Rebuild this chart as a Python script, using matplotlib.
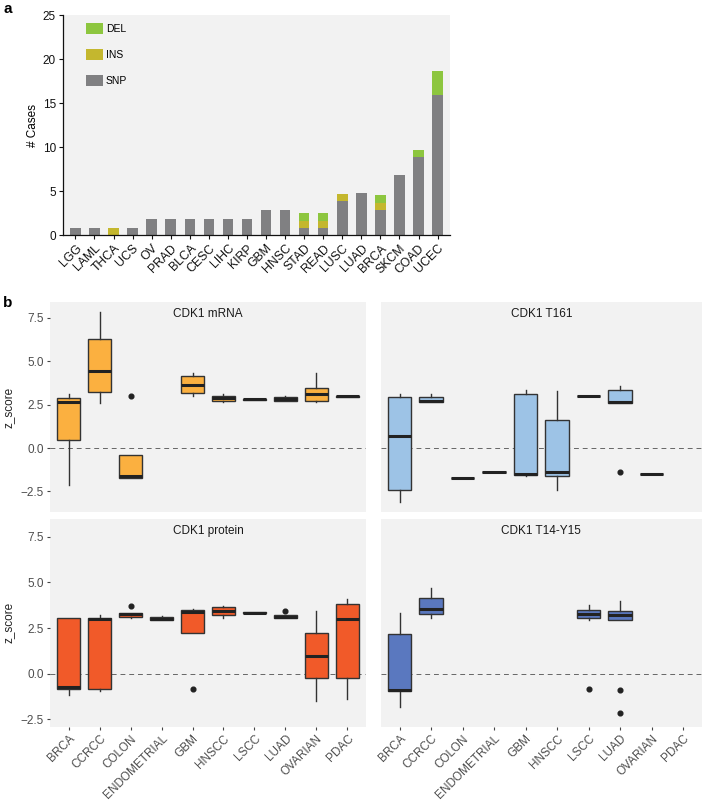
import matplotlib
matplotlib.use("Agg")
import matplotlib.pyplot as plt
from matplotlib.patches import Patch

# ---------------- data: panel a ----------------
cancers_a = ["LGG", "LAML", "THCA", "UCS", "OV", "PRAD", "BLCA", "CESC", "LIHC", "KIRP",
             "GBM", "HNSC", "STAD", "READ", "LUSC", "LUAD", "BRCA", "SKCM", "COAD", "UCEC"]
snp_cases = [0.83, 0.83, 0.0, 0.83, 1.85, 1.85, 1.85, 1.85, 1.85, 1.85,
             2.84, 2.84, 0.83, 0.83, 3.86, 4.85, 2.84, 6.86, 8.86, 15.87]
ins_cases = [0.0, 0.0, 0.83, 0.0, 0.0, 0.0, 0.0, 0.0, 0.0, 0.0,
             0.0, 0.0, 0.84, 0.84, 0.84, 0.0, 0.82, 0.0, 0.0, 0.0]
del_cases = [0.0, 0.0, 0.0, 0.0, 0.0, 0.0, 0.0, 0.0, 0.0, 0.0,
             0.0, 0.0, 0.87, 0.87, 0.0, 0.0, 0.91, 0.0, 0.84, 2.83]
a_yticks = [0, 5, 10, 15, 20, 25]

# ---------------- data: panel b ----------------
cohorts = ["BRCA", "CCRCC", "COLON", "ENDOMETRIAL", "GBM", "HNSCC", "LSCC", "LUAD", "OVARIAN", "PDAC"]
b_yticks = [-2.5, 0.0, 2.5, 5.0, 7.5]

mrna_q1 = [0.44, 3.21, -1.71, None, 3.19, 2.71, 2.77, 2.73, 2.69, 2.96]
mrna_med = [2.63, 4.42, -1.60, None, 3.65, 2.85, 2.80, 2.83, 3.13, 2.98]
mrna_q3 = [2.88, 6.25, -0.38, None, 4.12, 3.00, 2.83, 2.92, 3.46, 3.00]
mrna_lo = [-2.15, 2.60, -1.71, None, 2.98, 2.63, 2.77, 2.73, 2.62, 2.96]
mrna_hi = [3.08, 7.80, -0.38, None, 4.29, 3.10, 2.83, 3.02, 4.29, 3.00]
mrna_out = [[], [], [3.02], [], [], [], [], [], [], []]

t161_q1 = [-2.40, 2.67, -1.71, -1.37, -1.56, -1.63, 3.02, 2.60, -1.52, None]
t161_med = [0.69, 2.71, -1.71, -1.37, -1.50, -1.40, 3.02, 2.67, -1.52, None]
t161_q3 = [2.92, 2.96, -1.71, -1.37, 3.10, 1.62, 3.02, 3.33, -1.52, None]
t161_lo = [-3.13, 2.67, -1.71, -1.37, -1.63, -2.40, 3.02, 2.60, -1.52, None]
t161_hi = [3.10, 3.10, -1.71, -1.37, 3.35, 3.29, 3.02, 3.56, -1.52, None]
t161_out = [[], [], [], [], [], [], [], [-1.37], [], []]

prot_q1 = [-0.83, -0.81, 3.13, 2.94, 2.24, 3.24, 3.33, 3.03, -0.22, -0.26]
prot_med = [-0.74, 3.01, 3.27, 3.00, 3.36, 3.42, 3.35, 3.13, 0.99, 3.00]
prot_q3 = [3.03, 3.03, 3.35, 3.13, 3.47, 3.64, 3.37, 3.24, 2.22, 3.83]
prot_lo = [-1.14, -0.92, 3.05, 2.94, 2.24, 3.05, 3.33, 3.03, -1.47, -1.40]
prot_hi = [3.03, 3.20, 3.35, 3.16, 3.53, 3.69, 3.37, 3.24, 3.46, 4.08]
prot_out = [[], [], [3.69], [], [-0.83], [], [], [3.46], [], []]

t14_q1 = [-0.97, 3.27, None, None, None, None, 3.03, 2.94, None, None]
t14_med = [-0.88, 3.53, None, None, None, None, 3.29, 3.22, None, None]
t14_q3 = [2.15, 4.12, None, None, None, None, 3.49, 3.44, None, None]
t14_lo = [-1.84, 3.07, None, None, None, None, 2.96, 2.94, None, None]
t14_hi = [3.33, 4.67, None, None, None, None, 3.77, 3.99, None, None]
t14_out = [[], [], [], [], [], [], [-0.85], [-0.88, -2.17], [], []]

# ---------------- style ----------------
W, H = 702, 806
fig = plt.figure(figsize=(W / 100, H / 100), dpi=100)
BG = "#f2f2f2"
FONT_A = ["Liberation Sans Narrow", "Liberation Sans", "DejaVu Sans"]
FONT_B = ["Liberation Sans", "DejaVu Sans"]


def ax_px(l, t, r, b):
    return fig.add_axes([l / W, 1 - b / H, (r - l) / W, (b - t) / H])


# ---------------- panel a ----------------
axa = ax_px(63, 15, 450, 235.3)
axa.set_facecolor(BG)
xs = list(range(len(cancers_a)))
c_snp, c_ins, c_del = "#808082", "#c4b72e", "#8dc63f"
axa.bar(xs, snp_cases, width=0.55, color=c_snp, zorder=2)
axa.bar(xs, ins_cases, width=0.55, bottom=snp_cases, color=c_ins, zorder=2)
bot2 = [s + i for s, i in zip(snp_cases, ins_cases)]
axa.bar(xs, del_cases, width=0.55, bottom=bot2, color=c_del, zorder=2)
axa.set_xlim(-0.65, len(cancers_a) - 0.35)
axa.set_ylim(0, 25)
axa.set_yticks(a_yticks)
axa.set_yticklabels([str(v) for v in a_yticks], family=FONT_A, fontsize=8.5)
axa.set_xticks(xs)
axa.set_xticklabels(cancers_a, rotation=45, ha="right", rotation_mode="anchor",
                    family=FONT_A, fontsize=8.8)
for s in ["top", "right"]:
    axa.spines[s].set_visible(False)
for s in ["left", "bottom"]:
    axa.spines[s].set_linewidth(0.9)
    axa.spines[s].set_color("#111111")
axa.tick_params(length=3, width=0.8, pad=2, colors="#111111")
axa.set_ylabel("# Cases", family=FONT_A, fontsize=8.5, labelpad=3)
handles = [Patch(facecolor=c_del, label="DEL"),
           Patch(facecolor=c_ins, label="INS"),
           Patch(facecolor=c_snp, label="SNP")]
leg = axa.legend(handles=handles, loc="upper left", bbox_to_anchor=(0.035, 1.005),
                 frameon=False, handlelength=1.6, handleheight=1.2, labelspacing=1.45,
                 handletextpad=0.3, prop={"family": FONT_A, "size": 7.5})
fig.text(3 / W, 1 - 13 / H, "a", fontsize=11, fontweight="bold", family=FONT_B)

# ---------------- panel b ----------------
fig.text(3 / W, 1 - 307 / H, "b", fontsize=11, fontweight="bold", family=FONT_B)

panels = [
    ("CDK1 mRNA", (50, 301.7, 366, 512.3), (-3.7, 8.42),
     (mrna_q1, mrna_med, mrna_q3, mrna_lo, mrna_hi, mrna_out), "#fbb040", True, False),
    ("CDK1 T161", (380.7, 301.7, 702, 512.3), (-3.7, 8.42),
     (t161_q1, t161_med, t161_q3, t161_lo, t161_hi, t161_out), "#9dc3e6", False, False),
    ("CDK1 protein", (50, 519, 366, 726.7), (-2.9, 8.47),
     (prot_q1, prot_med, prot_q3, prot_lo, prot_hi, prot_out), "#f15a29", True, True),
    ("CDK1 T14-Y15", (380.7, 519, 702, 726.7), (-2.9, 8.47),
     (t14_q1, t14_med, t14_q3, t14_lo, t14_hi, t14_out), "#5a78bf", False, True),
]

for title, box, ylim, data, color, show_y, show_x in panels:
    ax = ax_px(*box)
    ax.set_facecolor(BG)
    for s in ax.spines.values():
        s.set_visible(False)
    q1, med, q3, lo, hi, out = data
    stats, pos = [], []
    for i in range(len(cohorts)):
        if med[i] is None:
            continue
        stats.append(dict(q1=q1[i], med=med[i], q3=q3[i], whislo=lo[i], whishi=hi[i],
                          fliers=out[i]))
        pos.append(i)
    ax.axhline(0, color="#666666", lw=0.7, ls=(0, (5, 4)), zorder=1)
    ax.bxp(stats, positions=pos, widths=0.75, patch_artist=True, showcaps=False,
           boxprops=dict(facecolor=color, edgecolor="#333333", linewidth=1.0),
           medianprops=dict(color="#222222", linewidth=2.2, solid_capstyle="butt"),
           whiskerprops=dict(color="#333333", linewidth=1.0),
           flierprops=dict(marker="o", markerfacecolor="#222222", markeredgecolor="#222222",
                           markersize=3.4), zorder=3)
    ax.set_xlim(-0.6, len(cohorts) - 0.4)
    ax.set_ylim(*ylim)
    ax.set_yticks(b_yticks)
    ax.set_yticklabels([f"{v:.1f}".replace("-", "\u2212") for v in b_yticks],
                       family=FONT_B, fontsize=8.5, color="#4d4d4d")
    ax.set_xticks(range(len(cohorts)))
    ax.set_xticklabels(cohorts, rotation=45, ha="right", rotation_mode="anchor",
                       family=FONT_B, fontsize=8.5, color="#4d4d4d")
    ax.tick_params(axis="both", length=2.5, width=0.8, color="#444444", pad=2)
    if not show_y:
        ax.tick_params(axis="y", left=False, labelleft=False)
    else:
        ax.set_ylabel("z_score", family=FONT_B, fontsize=8.5, color="#222222", labelpad=4)
    if not show_x:
        ax.tick_params(axis="x", bottom=False, labelbottom=False)
    ax.text(0.5, 0.94, title, transform=ax.transAxes, ha="center", va="center",
            family=FONT_B, fontsize=8.5, color="#1a1a1a")

fig.savefig("out.png", dpi=100)
